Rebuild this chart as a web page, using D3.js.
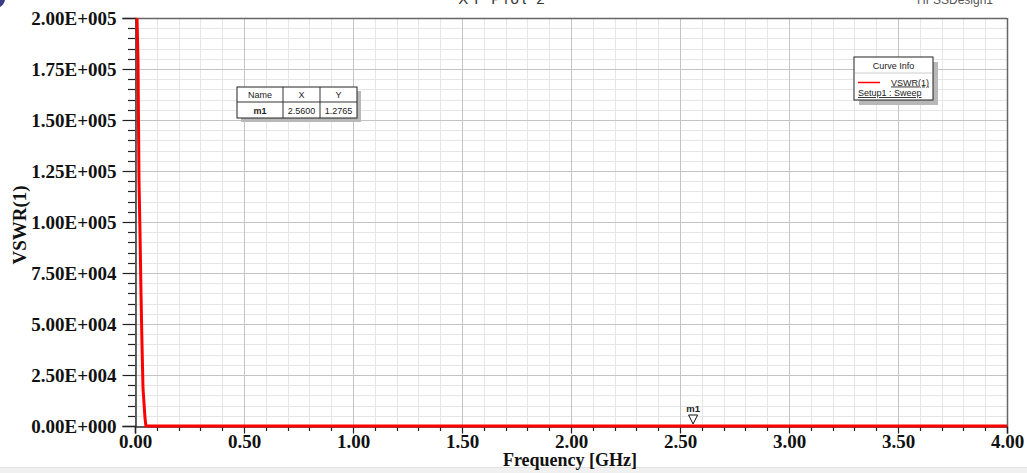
<!DOCTYPE html>
<html><head><meta charset="utf-8">
<script src="https://cdn.jsdelivr.net/npm/d3@7"></script>
<style>html,body{margin:0;padding:0;background:#fff;}svg{display:block;}</style>
</head><body>
<svg id="c" width="1027" height="473"></svg>
<script>
// ---- data ----
const freqGHz = [0.008, 0.0092, 0.0138, 0.016, 0.0183, 0.0229, 0.0275, 0.032, 0.0367, 0.0459, 0.05, 0.06, 0.1, 0.2, 0.5, 1.0, 1.5, 2.0, 2.56, 3.0, 3.5, 4.0];
const vswr    = [220000, 200000, 179400, 150000, 120600, 95100, 65200, 40700, 18600, 3900, 100, 60, 15, 6, 3, 2.2, 1.8, 1.5, 1.2765, 1.6, 2.1, 2.6];
const xTickValues = [0, 0.5, 1.0, 1.5, 2.0, 2.5, 3.0, 3.5, 4.0];
const xTickLabels = ["0.00","0.50","1.00","1.50","2.00","2.50","3.00","3.50","4.00"];
const yTickValues = [0, 25000, 50000, 75000, 100000, 125000, 150000, 175000, 200000];
const yTickLabels = ["0.00E+000","2.50E+004","5.00E+004","7.50E+004","1.00E+005","1.25E+005","1.50E+005","1.75E+005","2.00E+005"];
const markerName = "m1", markerX = 2.56, markerY = 1.2765;
const markerTable = [["Name","X","Y"],["m1","2.5600","1.2765"]];
const legendTitle = "Curve Info", legendSeries = "VSWR(1)", legendSetup = "Setup1 : Sweep";
const chartTitle = "XY Plot 2", designName = "HFSSDesign1";
const xTitle = "Frequency [GHz]", yTitle = "VSWR(1)";

// ---- layout ----
const svg = d3.select("#c");
const L = 135, R = 1007, T = 18, B = 426;
const x = d3.scaleLinear().domain([0, 4]).range([L, R]);
const y = d3.scaleLinear().domain([0, 200000]).range([B, T]);
const serif = "'Liberation Serif','Times New Roman',serif";
const sans = "'Liberation Sans',Arial,sans-serif";

svg.append("rect").attr("width",1027).attr("height",473).attr("fill","#fff");
// bottom window band
svg.append("rect").attr("x",0).attr("y",468).attr("width",1027).attr("height",5).attr("fill","#f0f0f0");
svg.append("line").attr("x1",0).attr("x2",1027).attr("y1",467.5).attr("y2",467.5).attr("stroke","#e2e2e2");

// top cut-off texts (partly outside the window, as in the reference)
svg.append("text").attr("x",503).attr("y",4).attr("text-anchor","middle")
  .attr("font-family",sans).attr("font-size",15).attr("letter-spacing",3).attr("fill","#333").text(chartTitle);
svg.append("text").attr("x",955).attr("y",4).attr("text-anchor","middle")
  .attr("font-family",sans).attr("font-size",12).attr("fill","#555").text(designName);
svg.append("path").attr("d","M0,0 L5,0 Q4,5 0,7 Z").attr("fill","#3a3c86");

// minor grid
const xMinor = d3.range(0, 4.0001, 0.1);
const yMinor = d3.range(0, 200001, 5000);
const g = svg.append("g");
g.selectAll(".xm").data(xMinor).join("line")
  .attr("x1",d=>Math.round(x(d))+0.5).attr("x2",d=>Math.round(x(d))+0.5).attr("y1",T).attr("y2",B)
  .attr("stroke","#e6e6e6").attr("stroke-width",1);
g.selectAll(".ym").data(yMinor).join("line")
  .attr("y1",d=>Math.round(y(d))+0.5).attr("y2",d=>Math.round(y(d))+0.5).attr("x1",L).attr("x2",R)
  .attr("stroke","#e6e6e6").attr("stroke-width",1);
// major grid
g.selectAll(".xM").data(xTickValues).join("line")
  .attr("x1",d=>Math.round(x(d))+0.5).attr("x2",d=>Math.round(x(d))+0.5).attr("y1",T).attr("y2",B)
  .attr("stroke","#c4c4c4").attr("stroke-width",1);
g.selectAll(".yM").data(yTickValues).join("line")
  .attr("y1",d=>Math.round(y(d))+0.5).attr("y2",d=>Math.round(y(d))+0.5).attr("x1",L).attr("x2",R)
  .attr("stroke","#c4c4c4").attr("stroke-width",1);

// frame top/right
svg.append("line").attr("x1",L).attr("x2",R).attr("y1",T+0.5).attr("y2",T+0.5).attr("stroke","#666").attr("stroke-width",1.5);
svg.append("line").attr("x1",R+0.5).attr("x2",R+0.5).attr("y1",T).attr("y2",B).attr("stroke","#666").attr("stroke-width",1.5);

// axes
const yAxis = d3.axisLeft(y).tickValues(yTickValues).tickFormat((d,i)=>yTickLabels[i]).tickSize(13).tickPadding(6);
const gy = svg.append("g").attr("transform",`translate(${L+0.5},0)`).call(yAxis);
gy.select(".domain").attr("stroke","#333").attr("stroke-width",1.5);
gy.selectAll(".tick line").attr("stroke","#222").attr("stroke-width",1.2);
gy.selectAll("text").attr("font-family",serif).attr("font-weight","bold").attr("font-size",19).attr("fill","#111");
// y minor ticks
svg.append("g").selectAll("line").data(yMinor.filter(v=>v%25000!==0)).join("line")
  .attr("x1",L-7).attr("x2",L).attr("y1",d=>Math.round(y(d))+0.5).attr("y2",d=>Math.round(y(d))+0.5)
  .attr("stroke","#222").attr("stroke-width",1.2);

const xAxis = d3.axisBottom(x).tickValues(xTickValues).tickFormat((d,i)=>xTickLabels[i]).tickSize(7).tickPadding(1);
const gx = svg.append("g").attr("transform",`translate(0,${B+0.5})`).call(xAxis);
gx.select(".domain").attr("stroke","#333").attr("stroke-width",1.5);
gx.selectAll(".tick line").attr("stroke","#222").attr("stroke-width",1.2);
gx.selectAll("text").attr("font-family",serif).attr("font-weight","bold").attr("font-size",19).attr("fill","#111");
svg.append("g").selectAll("line").data(xMinor.filter(v=>Math.abs(v*2-Math.round(v*2))>1e-6)).join("line")
  .attr("x1",d=>Math.round(x(d))+0.5).attr("x2",d=>Math.round(x(d))+0.5).attr("y1",B).attr("y2",B+5)
  .attr("stroke","#222").attr("stroke-width",1.2);

// titles
svg.append("text").attr("x",570).attr("y",466).attr("text-anchor","middle")
  .attr("font-family",serif).attr("font-weight","bold").attr("font-size",18).attr("fill","#111").text(xTitle);
svg.append("text").attr("transform","translate(26,225) rotate(-90)").attr("text-anchor","middle")
  .attr("font-family",serif).attr("font-weight","bold").attr("font-size",19).attr("fill","#111").text(yTitle);

// curve
svg.append("clipPath").attr("id","clip").append("rect").attr("x",L).attr("y",T).attr("width",R-L+2).attr("height",B-T+2);
const pts = freqGHz.map((f,i)=>[f, vswr[i]]);
svg.append("path").datum(pts).attr("clip-path","url(#clip)")
  .attr("d", d3.line().x(d=>x(d[0])).y(d=>y(d[1])))
  .attr("fill","none").attr("stroke","#ff0000").attr("stroke-width",3).attr("stroke-linejoin","miter");

// marker
const mx = x(markerX), my = y(markerY);
svg.append("path").attr("d",`M${mx-4.5},${my-11} L${mx+4.5},${my-11} L${mx},${my-2} Z`)
  .attr("fill","#fff").attr("stroke","#111").attr("stroke-width",1);
svg.append("text").attr("x",mx).attr("y",my-14).attr("text-anchor","middle")
  .attr("font-family",sans).attr("font-weight","bold").attr("font-size",9.5).attr("fill","#222").text(markerName);

// marker table
const tx = 237, ty = 87, colW = [46, 37, 37], rowH = [15, 16];
const tw = d3.sum(colW), th = d3.sum(rowH);
svg.append("rect").attr("x",tx+4).attr("y",ty+4).attr("width",tw).attr("height",th).attr("fill","#b8b8b8");
svg.append("rect").attr("x",tx).attr("y",ty).attr("width",tw).attr("height",th).attr("fill","#fff").attr("stroke","#222").attr("stroke-width",1);
svg.append("line").attr("x1",tx).attr("x2",tx+tw).attr("y1",ty+rowH[0]).attr("y2",ty+rowH[0]).attr("stroke","#333");
let cx0 = tx;
colW.forEach((w,ci)=>{
  if (ci>0) svg.append("line").attr("x1",cx0).attr("x2",cx0).attr("y1",ty).attr("y2",ty+th).attr("stroke","#333");
  markerTable.forEach((row,ri)=>{
    const yy = ty + (ri===0 ? 11 : rowH[0]+11.5);
    svg.append("text").attr("x",cx0+w/2).attr("y",yy).attr("text-anchor","middle")
      .attr("font-family",sans).attr("font-size",9).attr("font-weight",(ri===1&&ci===0)?"bold":"normal")
      .attr("fill","#222").text(row[ci]);
  });
  cx0 += w;
});

// legend
const lx = 854, ly = 57, lw = 79, lh = 43;
svg.append("rect").attr("x",lx+5).attr("y",ly+5).attr("width",lw).attr("height",lh).attr("fill","#b8b8b8");
svg.append("rect").attr("x",lx).attr("y",ly).attr("width",lw).attr("height",lh).attr("fill","#fff").attr("stroke","#222");
svg.append("line").attr("x1",lx+1).attr("x2",lx+lw-1).attr("y1",ly+16).attr("y2",ly+16).attr("stroke","#ccc");
svg.append("text").attr("x",lx+lw/2).attr("y",ly+12).attr("text-anchor","middle")
  .attr("font-family",sans).attr("font-size",9).attr("fill","#222").text(legendTitle);
svg.append("line").attr("x1",lx+4).attr("x2",lx+26).attr("y1",ly+25.5).attr("y2",ly+25.5).attr("stroke","#ff0000").attr("stroke-width",1.5);
svg.append("text").attr("x",lx+lw-4).attr("y",ly+28.5).attr("text-anchor","end")
  .attr("font-family",sans).attr("font-size",9).attr("fill","#222").attr("text-decoration","underline").text(legendSeries);
svg.append("text").attr("x",lx+4).attr("y",ly+39).attr("text-anchor","start")
  .attr("font-family",sans).attr("font-size",9).attr("fill","#222").attr("text-decoration","underline").text(legendSetup);
</script>
</body></html>
